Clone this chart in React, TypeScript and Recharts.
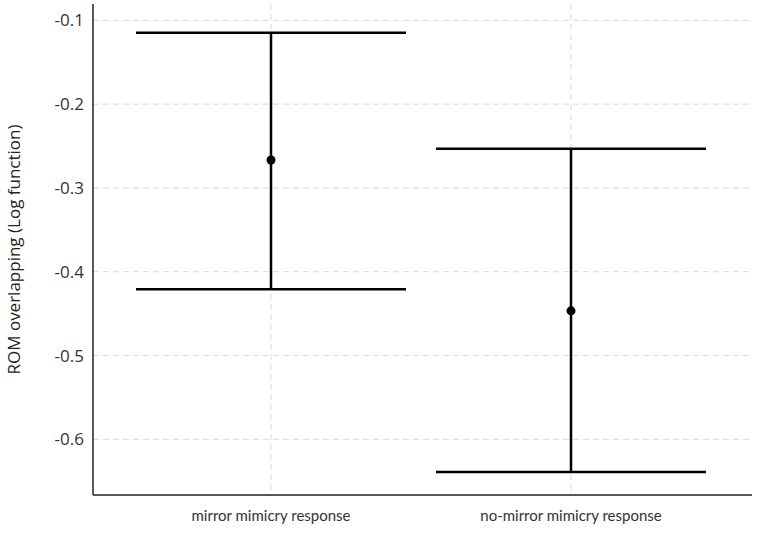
import { ComposedChart, Scatter, ErrorBar, XAxis, YAxis, CartesianGrid } from 'recharts';

const groups = ['mirror mimicry response', 'no-mirror mimicry response'];
const means = [-0.2667, -0.4467];
const upper = [-0.1148, -0.2532];
const lower = [-0.4209, -0.639];
const yTicks = [-0.6, -0.5, -0.4, -0.3, -0.2, -0.1];

const data = groups.map((g, i) => ({
  group: g,
  mean: means[i],
  err: [means[i] - lower[i], upper[i] - means[i]],
}));

const FONT = '"Open Sans", sans-serif';

export default function App() {
  return (
    <div style={{ position: 'absolute', left: 0, top: 0, background: '#fff' }}>
      <ComposedChart width={760} height={537} data={data} margin={{ top: 4, right: 8, bottom: 12, left: 0 }}>
        <CartesianGrid stroke="#d9d9d9" strokeDasharray="6 4" syncWithTicks />
        <XAxis
          dataKey="group"
          type="category"
          padding={{ left: 178, right: 181 }}
          axisLine={{ stroke: '#222', strokeWidth: 1.5 }}
          tickLine={false}
          tickSize={0}
          tickMargin={15}
          height={30}
          tick={{ fill: '#333', fontSize: 15, fontFamily: 'Lato, sans-serif' }}
        />
        <YAxis
          type="number"
          domain={[-0.6665, -0.0805]}
          ticks={yTicks}
          width={93}
          axisLine={{ stroke: '#222', strokeWidth: 1.5 }}
          tickLine={false}
          tickSize={0}
          tickMargin={9}
          tick={{ fill: '#333', fontSize: 17, fontFamily: FONT }}
          label={{
            value: 'ROM overlapping (Log function)',
            angle: -90,
            position: 'insideLeft',
            offset: 14,
            style: { textAnchor: 'middle', fill: '#222', fontSize: 17, fontFamily: FONT },
          }}
        />
        <Scatter dataKey="mean" fill="#000" isAnimationActive={false}>
          <ErrorBar dataKey="err" direction="y" width={135} stroke="#000" strokeWidth={2.5} isAnimationActive={false} />
        </Scatter>
      </ComposedChart>
    </div>
  );
}
